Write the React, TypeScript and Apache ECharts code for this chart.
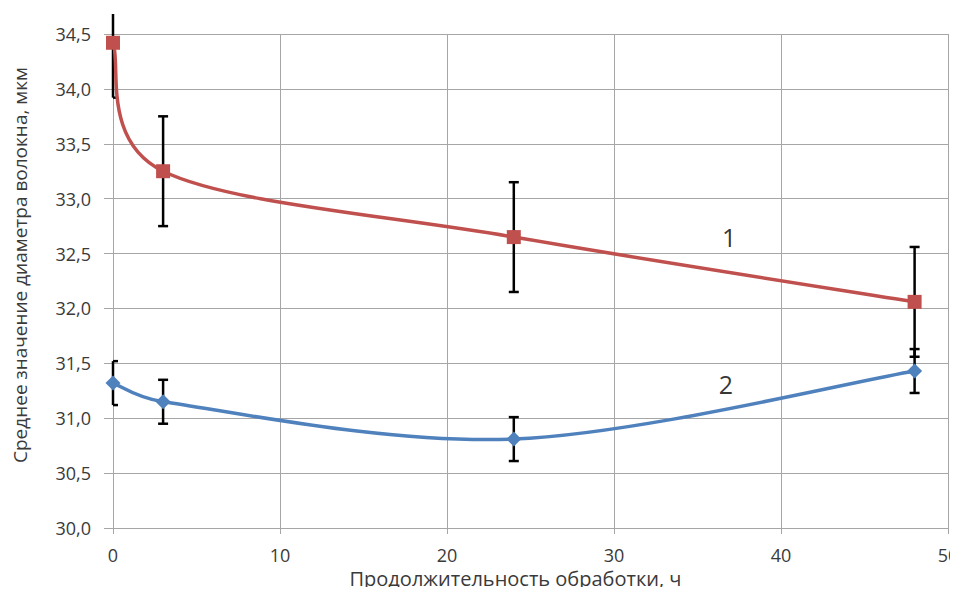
import React, { useEffect, useRef } from "react";
import * as echarts from "echarts";

const hours = [0, 3, 24, 48];
const series1 = [34.42, 33.25, 32.65, 32.06];
const series1Err = [0.5, 0.5, 0.5, 0.5];
const series2 = [31.32, 31.15, 30.81, 31.43];
const series2Err = [0.2, 0.2, 0.2, 0.2];
const curveLabels = ["1", "2"];
const curveLabelX = [36.9, 36.7];
const curveLabelY = [32.655, 31.31];
const xTitle = "Продолжительность обработки, ч";
const yTitle = "Среднее значение диаметра волокна, мкм";

const FONT = "Open Sans";
const TEXT = "#3a3a3a";
const GRID = "#a6a6a6";
const RED = "#C0504D";
const BLUE = "#4F81BD";

function errData(vals: number[], errs: number[]) {
  return hours.map((h, i) => [h, vals[i] - errs[i], vals[i] + errs[i]]);
}

function errorBarSeries(vals: number[], errs: number[]) {
  return {
    type: "custom",
    z: 1,
    data: errData(vals, errs),
    encode: { x: 0, y: [1, 2] },
    silent: true,
    renderItem: (params: any, api: any) => {
      const x = api.value(0);
      const lo = api.coord([x, api.value(1)]);
      const hi = api.coord([x, api.value(2)]);
      const cs = params.coordSys;
      const topLimit = cs.y - 20;
      const yHi = Math.max(hi[1], topLimit);
      const cap = 5;
      const cl = Math.max(lo[0] - cap, cs.x);
      const cr = Math.min(lo[0] + cap, cs.x + cs.width);
      const st = { stroke: "#000", lineWidth: 2.5 };
      const children: any[] = [
        { type: "line", shape: { x1: lo[0], y1: lo[1], x2: hi[0], y2: yHi }, style: st },
        { type: "line", shape: { x1: cl, y1: lo[1], x2: cr, y2: lo[1] }, style: st },
      ];
      if (hi[1] >= topLimit) {
        children.push({ type: "line", shape: { x1: cl, y1: hi[1], x2: cr, y2: hi[1] }, style: st });
      }
      return { type: "group", children };
    },
  };
}

// Segments for Excel-like smoothed line: each item carries prev, start, end, next points
function segData(vals: number[]) {
  const n = hours.length;
  const out: number[][] = [];
  for (let i = 0; i < n - 1; i++) {
    const a = Math.max(i - 1, 0);
    const d = Math.min(i + 2, n - 1);
    out.push([hours[a], vals[a], hours[i], vals[i], hours[i + 1], vals[i + 1], hours[d], vals[d]]);
  }
  return out;
}

function clampVec(vx: number, vy: number, maxLen: number) {
  const len = Math.sqrt(vx * vx + vy * vy);
  if (len > maxLen && len > 0) {
    const s = maxLen / len;
    return [vx * s, vy * s];
  }
  return [vx, vy];
}

function smoothLineSeries(vals: number[], color: string) {
  return {
    type: "custom",
    z: 2,
    clip: true,
    silent: true,
    data: segData(vals),
    encode: { x: [0, 2, 4, 6], y: [1, 3, 5, 7] },
    renderItem: (_params: any, api: any) => {
      const p0 = api.coord([api.value(0), api.value(1)]);
      const p1 = api.coord([api.value(2), api.value(3)]);
      const p2 = api.coord([api.value(4), api.value(5)]);
      const p3 = api.coord([api.value(6), api.value(7)]);
      const k = 1 / 6;
      const segLen = Math.sqrt((p2[0] - p1[0]) ** 2 + (p2[1] - p1[1]) ** 2);
      const maxLen = segLen * 0.5;
      const t1 = clampVec((p2[0] - p0[0]) * k, (p2[1] - p0[1]) * k, maxLen);
      const t2 = clampVec((p3[0] - p1[0]) * k, (p3[1] - p1[1]) * k, maxLen);
      return {
        type: "bezierCurve",
        shape: {
          x1: p1[0],
          y1: p1[1],
          x2: p2[0],
          y2: p2[1],
          cpx1: p1[0] + t1[0],
          cpy1: p1[1] + t1[1],
          cpx2: p2[0] - t2[0],
          cpy2: p2[1] - t2[1],
        },
        style: { stroke: color, lineWidth: 3.5, fill: null, lineCap: "round" },
      };
    },
  };
}

export default function App() {
  const ref = useRef<HTMLDivElement>(null);
  useEffect(() => {
    if (!ref.current) return;
    const chart = echarts.init(ref.current, undefined, { renderer: "svg" });
    const fmt = (v: number) => v.toFixed(1).replace(".", ",");
    chart.setOption({
      animation: false,
      backgroundColor: "#fff",
      grid: { left: 113, right: 10, top: 34, bottom: 67, outerBoundsMode: "none", containLabel: false },
      xAxis: {
        type: "value",
        min: 0,
        max: 50,
        interval: 10,
        name: xTitle,
        nameLocation: "middle",
        nameGap: 39,
        nameTextStyle: { fontFamily: FONT, fontSize: 20, color: TEXT, padding: [0, 30, 0, 0] },
        axisLine: { show: true, onZero: false, lineStyle: { color: GRID, width: 1 } },
        axisTick: { show: true, length: 6, lineStyle: { color: GRID } },
        axisLabel: { fontFamily: FONT, fontSize: 18, color: TEXT, margin: 18 },
        splitLine: { show: true, lineStyle: { color: GRID, width: 1 } },
      },
      yAxis: {
        type: "value",
        min: 30,
        max: 34.5,
        interval: 0.5,
        name: yTitle,
        nameLocation: "middle",
        nameGap: 84,
        nameTextStyle: { fontFamily: FONT, fontSize: 19, color: TEXT, padding: [0, 0, 0, 32] },
        axisLine: { show: true, lineStyle: { color: GRID, width: 1 } },
        axisTick: { show: true, length: 9, lineStyle: { color: GRID } },
        axisLabel: { fontFamily: FONT, fontSize: 18, color: TEXT, margin: 22, formatter: fmt },
        splitLine: { show: true, lineStyle: { color: GRID, width: 1 } },
      },
      series: [
        errorBarSeries(series1, series1Err),
        errorBarSeries(series2, series2Err),
        smoothLineSeries(series1, RED),
        smoothLineSeries(series2, BLUE),
        {
          type: "scatter",
          z: 3,
          silent: true,
          data: hours.map((h, i) => [h, series1[i]]),
          symbol: "rect",
          symbolSize: 14,
          itemStyle: { color: RED, opacity: 1 },
        },
        {
          type: "scatter",
          z: 3,
          silent: true,
          data: hours.map((h, i) => [h, series2[i]]),
          symbol: "diamond",
          symbolSize: 15,
          itemStyle: { color: BLUE, opacity: 1 },
        },
        {
          type: "scatter",
          z: 4,
          silent: true,
          symbolSize: 1,
          itemStyle: { color: "rgba(0,0,0,0)" },
          data: curveLabels.map((t, i) => ({ value: [curveLabelX[i], curveLabelY[i]], name: t })),
          label: {
            show: true,
            position: "inside",
            formatter: (p: any) => p.name,
            fontFamily: FONT,
            fontSize: 25,
            color: "#000",
          },
        },
      ],
    });
    return () => chart.dispose();
  }, []);
  return <div ref={ref} style={{ width: 958, height: 595, margin: -8 }} />;
}
